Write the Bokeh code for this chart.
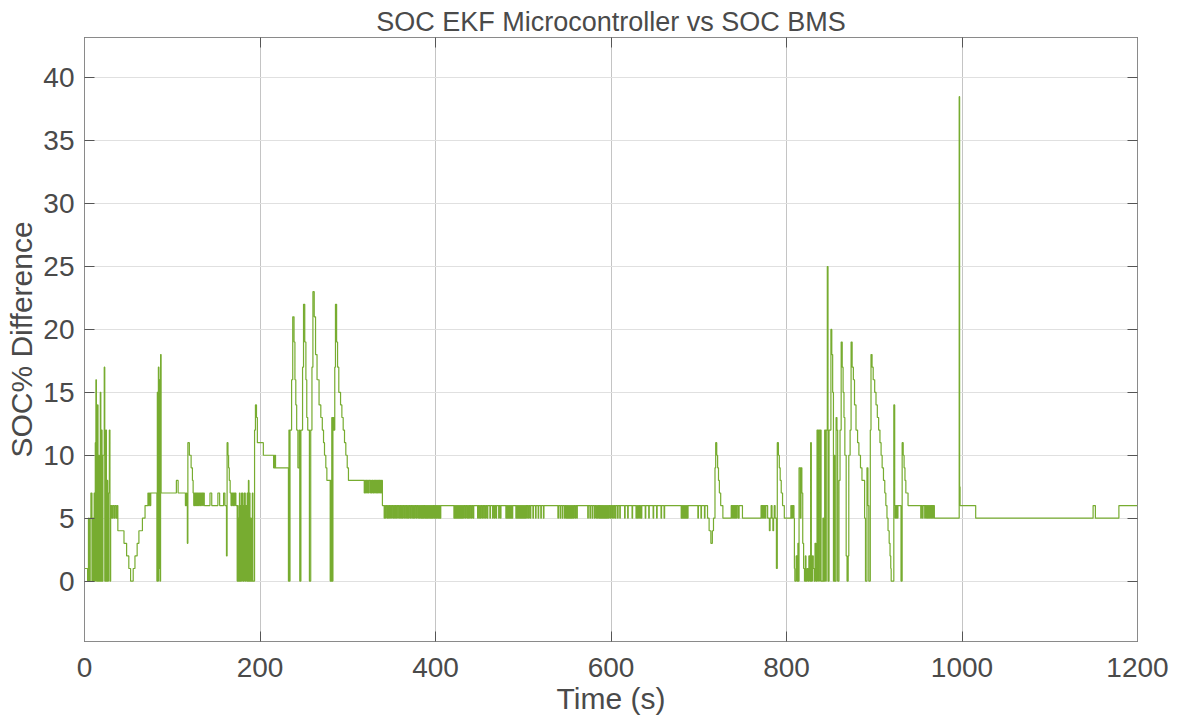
from bokeh.plotting import figure
from bokeh.models import LinearAxis, Range1d, FixedTicker, Title
from bokeh.embed import file_html
from bokeh.resources import INLINE

# ---- data: (time s, SOC% difference) breakpoints, held until next breakpoint ----
seg_start = [(0,1),(3.5,0),(4.5,5),(5.3,0),(6.5,5),(7.3,7),(8.5,0),(9.5,5),(10.2,0),(11,7),(11.8,0),
             (12.3,11),(13,16),(13.6,0),(14.8,14),(15.4,0),(16.3,10),(16.8,0),(18,15),(18.6,0),(19.3,12),
             (20,0),(21,10),(22.5,17),(23.1,0),(24.3,12),(25,0),(25.8,8),(26.4,0),(27.3,7),(28.3,12),(29,0),
             (29.8,6),(31,5),(32,6),(33.5,5),(34.5,6),(36,5),(37,6)]
seg_dip = [(38,4),(45,3),(48,2),(50.5,1),(52.5,0),(55.5,1),(57.5,2),(60,3),(62,4),(66,5),(69,6),(72.3,7),
           (73,6),(74,7),(75,6),(75.5,7),(82.5,0),(83,15),(83.5,0),(84.2,17),(84.8,1),(85.5,16),(86,0),
           (86.7,18),(87.3,7),(104.7,8),(106.7,7),(115,6),(116,7),(116.5,6),(117.2,3),(117.8,11),(119.5,10),
           (121.5,9),(123,8),(123.8,7),(124.5,6)]
seg_osc = [(125,7),(125.5,6),(126,7),(126.8,6),(127.3,7),(128,6),(128.5,7),(129.2,6),(129.8,7),(130.5,6),
           (131,7),(132,6),(132.5,7),(133.5,6),(134,7),(135,6),(135.5,7),(136.5,6),(143,7),(145,6),(152,7),
           (154,6),(158.5,7),(160,6),(161.8,2),(162.5,11),(163.5,10),(164.2,9),(165,8),(166,7),(167,6),
           (167.5,7),(168,6),(168.5,7),(169.5,6),(170,7),(171,6),(171.5,7),(172.5,6)]
seg_drop = [(174,0),(174.5,6),(175,0),(175.5,5),(176,0),(176.6,7),(177.2,0),(178,6),(178.5,0),(179,7),
            (180.3,0),(180.8,6),(181.4,0),(182,7),(183.2,0),(183.8,5),(184.3,6),(184.8,0),(185.4,7),(186,0),
            (186.8,8),(187.4,0),(188,7),(188.6,0),(189.2,5),(190,0),(191.3,7),(191.9,0),(193.8,12),(194.8,14),
            (196,13),(197,11),(203.8,10),(215.5,9),(216,10),(216.5,9),(217.1,10),(217.7,9)]
seg_peaks = [(232.4,0),(233,12),(233.6,0),(234.2,12),(236,16),(237.3,21),(238.8,19),(239.8,16),(240.8,14),
             (241.8,12),(243.2,9),(244.8,12),(245.3,0),(246.6,12),(248.5,17),(249.6,22),(251,19),(252.3,16),
             (253.3,13),(254.4,12),(256.3,0),(257.8,12),(259.2,17),(260.3,23),(261.8,21),(263.3,18),(265,16),
             (267.3,14),(269.3,13),(271,12),(272.4,11),(273.5,10),(275,9),(276.2,8),(280,0),(280.6,8),
             (281.2,0),(281.8,13),(282.4,0),(283.1,13),(284.2,12),(285.2,17),(286,22),(287.3,19),(288.4,17),
             (289.8,15),(291.8,14),(293.3,13),(294.8,12),(296.3,11),(297.8,10),(299.4,9),(300.8,8)]
seg_flat8 = [(318.8,7),(319.3,8),(320.3,7),(320.8,8),(321.8,7),(322.3,8),(323.3,7),(323.8,8),(325.3,7),
             (325.8,8),(326.8,7),(327.6,8),(328.8,7),(329.6,8),(330.8,7),(331.3,8),(332.3,7),(332.8,8),
             (333.8,7),(334.3,8),(335.3,7),(335.8,8),(336.8,7),(337.3,8),(338.3,7),(338.8,8),(339.5,6)]
# times where the 6 % plateau briefly drops to 5 % (340 s - 710 s)
blips_to_5 = [341.5,343,345,346.5,348,350,352,353.5,355,357,359,360.5,362,364,366,367.5,369,371,373,374.5,
              376,378,380,381.5,383,384.2,385.4,386.6,388,389.2,390.4,391.6,393,394.2,395.4,396.6,398,399.2,
              400.4,401.6,403,404.2,405.4,
              421,422.2,423.4,424.6,425.8,427,428.2,429.4,430.6,432,434,436,437.5,439,441,443,
              448,449.5,451,453,455,457,459,462,465,467,469,472,474,
              480.2,481.4,482.6,483.8,485,486.2,487.4,
              491.6,492.8,494,495.2,496.4,497.6,498.8,500,501.2,502.4,504,506,508,511,514,517,520,523,
              539.5,542,544.5,547,548.5,549.7,550.9,552.1,553.3,554.5,555.7,557,559,561,
              573.5,576,578.5,581,583,584.5,586,587.2,588.4,589.6,590.8,592,593.2,594.4,595.6,597,599,601,
              603,605,607.5,610,
              615.5,619,624,628.5,630,631.5,633,634.5,639,643,648,652,657,660.5,
              680,681.2,682.4,683.6,684.8,686,687.2,
              699,702.5,706.5]
seg_mid = [(710,5),(711.8,4),(713.8,3),(715.5,4),(716.8,5),(718.5,9),(719.3,11),(720.5,10),(721.5,9),
           (722.5,8),(723.5,7),(725,6),(727.5,5),(737,6),(737.8,5),(738.3,6),(739.1,5),(739.6,6),(740.4,5),
           (740.9,6),(741.7,5),(742.2,6),(743,5),(743.5,6),(745,5),(746,6),(749.8,5),(771,6),(771.8,5),
           (772.3,6),(773.1,5),(773.6,6),(774.4,5),(774.9,6),(776,5),(776.5,6),(778.5,5),(780.5,4),(781.3,5),
           (782.5,6),(783.5,5),(784.5,4),(785.3,5),(786,6),(787,5),(788.5,1),(789.5,11),(790.8,10),(791.8,9),
           (792.8,8),(794,7),(795.5,6),(797.5,5),(805,6),(805.6,5),(806.2,6),(807,5),(807.5,6),(808.5,5)]
seg_chaos = [(809,1),(809.5,0),(811,2),(812,0),(813,3),(813.5,0),(814.3,9),(815.8,5),(816.5,9),(817.5,7),
             (818.5,3),(819.5,1),(820.5,0),(821.5,2),(822.2,0),(823.5,1),(824.5,0),(825.5,2),(826.5,0),
             (827.5,11),(828.3,0),(829.5,2),(830.5,1),(831.5,0),(832.5,3),(833.5,0),(834.8,12),(835.8,0),
             (836.4,12),(837.8,0),(838.4,12),(839.4,0),(841.5,5),(842.3,0),(843.5,12),(844.5,0),(845.3,12),
             (846.5,25),(847.3,0),(848.5,12),(850.6,20),(851.6,18),(852.6,15),(853.5,0),(854.2,10),(855,0),
             (856.5,13),(857.5,12),(858.3,0),(859.8,8),(861,12),(862.3,19),(863.5,17),(864.5,15),(865.5,13),
             (866.5,10),(868,2),(869,0),(870.3,2),(871,10),(872.5,12),(873.6,19),(874.8,17),(876.2,16),
             (877.5,14),(879.2,12),(881,11),(882.5,10),(884.3,9),(886,8),(889,5),(890,0),(891.7,9),(892.8,6),
             (893.8,0),(895.5,12),(896.3,18),(897.5,17),(898.8,16),(900.5,15),(902,14),(903.5,13),(905,12),
             (906.5,11),(907.8,10),(909,9),(910.5,8),(912,7),(913.2,6),(914.5,5),(915.7,4),(917,3),(918,2),
             (918.8,1),(919.3,0),(922.3,14),(923.3,6),(923.8,5),(924.3,6),(925,5),(925.5,6),(926.5,5),(927,6),
             (930.5,0),(931.8,11),(933,10),(934,9),(935,8),(936,7),(938.5,6)]
seg_end = [(940.3,6),(953,5),(953.6,6),(955,5),(955.6,6),(957.5,5),(958,6),(959,5),(959.5,6),(960.5,5),
           (961,6),(961.8,5),(962.3,6),(963,5),(963.5,6),(964.3,5),(964.8,6),(965.5,5),(966,6),(966.8,5),
           (967.3,6),(968.5,5),(996.8,38.5),(997.3,7.5),(997.8,6),(1015.6,5),(1149.4,6),(1152,5),
           (1178.8,6),(1200,6)]

x_ticks = [0, 200, 400, 600, 800, 1000, 1200]
y_ticks = [0, 5, 10, 15, 20, 25, 30, 35, 40]

# ---- assemble series ----
plateau = []
for tb in blips_to_5:
    plateau += [(tb, 5), (tb + 0.6, 6)]
pts = seg_start + seg_dip + seg_osc + seg_drop + seg_peaks + seg_flat8 + plateau + seg_mid + seg_chaos + seg_end
time_s = [a for a, b in pts]
soc_diff = [b for a, b in pts]

TEXT = "#4a4a4a"
AX = "#8a8a8a"
TICK = "#555555"
FONT = "Liberation Sans"

p = figure(width=1179, height=722, x_range=Range1d(0, 1200), y_range=Range1d(-4.8, 43.2),
           output_backend="svg", toolbar_location=None,
           min_border_left=84, min_border_right=42, min_border_top=37, min_border_bottom=81)
p.title = None
xb = p.below[0]
yl = p.left[0]

# box ticks on top and right (no labels) - added first so they sit against the frame
for loc, ticks in (("right", y_ticks), ("above", x_ticks)):
    a = LinearAxis(ticker=FixedTicker(ticks=ticks), major_tick_in=10, major_tick_out=0,
                   minor_tick_line_color=None, axis_line_color=AX, major_tick_line_color=TICK,
                   major_label_text_color=None, major_label_standoff=0)
    p.add_layout(a, loc)

t = Title(text="SOC EKF Microcontroller vs SOC BMS", align="center", text_font=FONT,
          text_font_size="27px", text_font_style="normal", text_color=TEXT, standoff=2)
p.add_layout(t, "above")

p.step(time_s, soc_diff, mode="after", line_color="#77AC30", line_width=1.2)

for ax, ticks in ((xb, x_ticks), (yl, y_ticks)):
    ax.ticker = FixedTicker(ticks=ticks)
    ax.major_tick_in = 10
    ax.major_tick_out = 0
    ax.minor_tick_line_color = None
    ax.axis_line_color = AX
    ax.major_tick_line_color = TICK
    ax.major_label_text_font = FONT
    ax.major_label_text_font_size = "28px"
    ax.major_label_text_color = TEXT
    ax.axis_label_text_font = FONT
    ax.axis_label_text_font_size = "30px"
    ax.axis_label_text_font_style = "normal"
    ax.axis_label_text_color = TEXT
xb.axis_label = "Time (s)"
yl.axis_label = "SOC% Difference"
xb.major_label_standoff = 16
yl.major_label_standoff = 10
xb.axis_label_standoff = 2
yl.axis_label_standoff = 2

p.xgrid.ticker = FixedTicker(ticks=x_ticks)
p.ygrid.ticker = FixedTicker(ticks=y_ticks)
p.xgrid.grid_line_color = "#c4c4c4"
p.ygrid.grid_line_color = "#e0e0e0"
p.outline_line_color = AX
p.background_fill_color = "white"
p.border_fill_color = "white"

open("out.html", "w").write(file_html(p, INLINE))
